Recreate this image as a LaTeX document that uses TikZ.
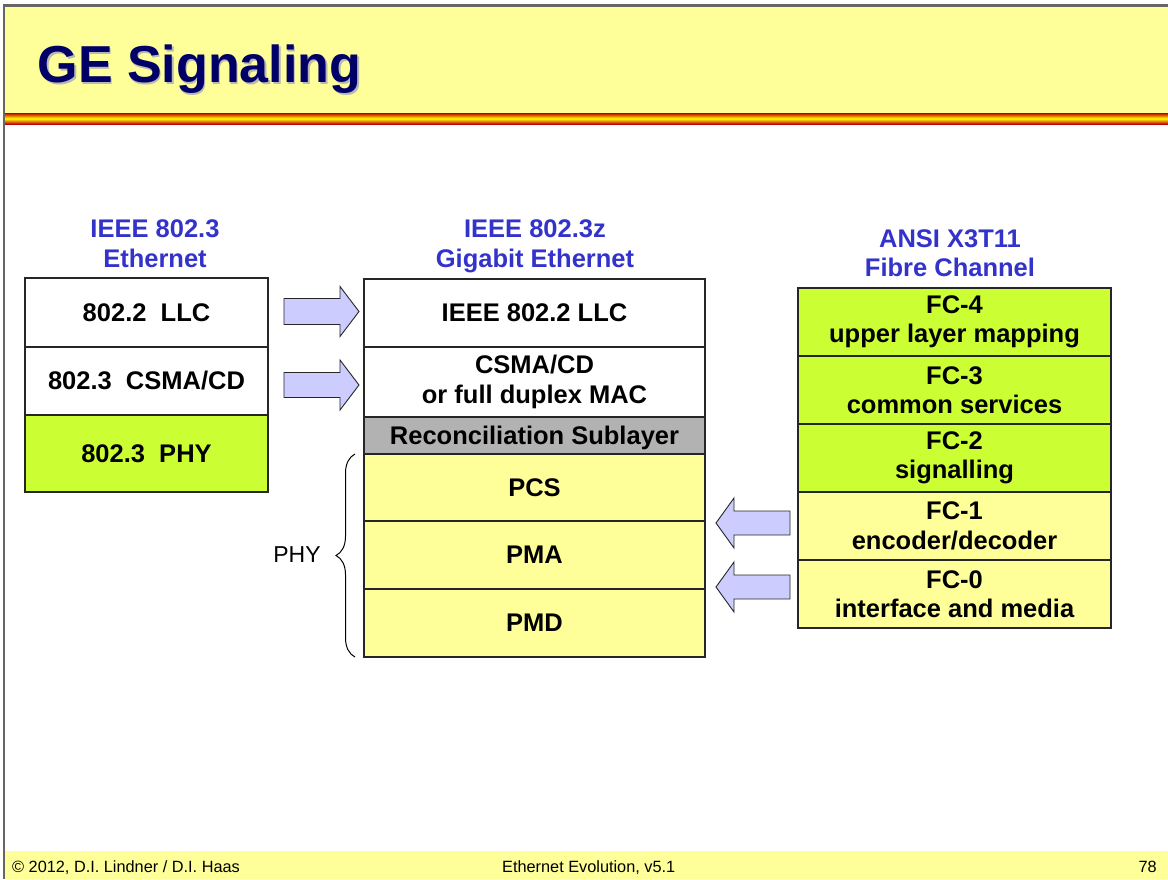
\documentclass[tikz,border=0pt]{standalone}
\usepackage{fontspec}
\setmainfont{Liberation Sans}
\usetikzlibrary{decorations.pathreplacing}
\definecolor{paleyellow}{HTML}{FFFF99}
\definecolor{limegreen}{HTML}{CCFF33}
\definecolor{rsgray}{HTML}{B2B2B2}
\definecolor{headblue}{HTML}{3333CC}
\definecolor{titlenavy}{HTML}{000066}
\definecolor{arrowfill}{HTML}{CCCCFF}
\definecolor{framegray}{HTML}{666666}
\begin{document}
\begin{tikzpicture}[x=1pt,y=-1pt,
  layer/.style={draw=black!85, line width=1.4pt, inner sep=0pt, outer sep=0pt,
    align=center, font=\bfseries\fontsize{25.5}{29.5}\selectfont},
  leftcol/.style={layer, minimum width=243pt},
  midcol/.style={layer, minimum width=341pt},
  rightcol/.style={layer, minimum width=313pt, minimum height=68pt},
  heading/.style={text=headblue, anchor=north, inner sep=0pt, align=center,
    font=\bfseries\fontsize{25.5}{29.5}\selectfont},
  blockarrow/.style={draw=black!85, line width=0.9pt, fill=arrowfill, line join=miter},
  foot/.style={inner sep=0pt, font=\fontsize{16.3}{19}\selectfont}]
\useasboundingbox (0,0) rectangle (1168,879);
% frame, title bar, footer
\fill[white] (0,0) rectangle (1168,879);
\fill[paleyellow] (5,6.5) rectangle (1168,113);
\shade[top color=red!75!black, bottom color=red!75!black, middle color=yellow] (5,113) rectangle (1168,124);
\fill[paleyellow] (5,851) rectangle (1168,879);
\fill[framegray] (3,4) rectangle (1168,6.5);
\fill[framegray] (3,4) rectangle (5.3,879);
% title
\node[anchor=base west, inner sep=0pt, text=black!28, font=\bfseries\fontsize{52}{60}\selectfont] (titleshadow) at (39,84) {GE Signaling};
\node[anchor=base west, inner sep=0pt, text=titlenavy, font=\bfseries\fontsize{52}{60}\selectfont] (title) at (37.5,82.5) {GE Signaling};
% headings
\node[heading] (h1) at (155,219.7) {IEEE 802.3\\Ethernet};
\node[heading] (h2) at (535,219.7) {IEEE 802.3z\\Gigabit Ethernet};
\node[heading] (h3) at (950,229) {ANSI X3T11\\Fibre Channel};
% left column
\node[leftcol, minimum height=69pt, fill=white] (llcA) at (146.5,312.5) {802.2\ \ LLC};
\node[leftcol, minimum height=68pt, fill=white] (macA) at (146.5,381) {802.3\ \ CSMA/CD};
\node[leftcol, minimum height=77pt, fill=limegreen] (phyA) at (146.5,453.5) {802.3\ \ PHY};
% middle column
\node[midcol, minimum height=68pt, fill=white] (llcB) at (534.5,313) {IEEE 802.2 LLC};
\node[midcol, minimum height=70pt, fill=white] (macB) at (534.5,382) {CSMA/CD\\or full duplex MAC};
\node[midcol, minimum height=37pt, fill=rsgray, text depth=0pt] (rs) at (534.5,435.5) {Reconciliation Sublayer};
\node[midcol, minimum height=67pt, fill=paleyellow] (pcs) at (534.5,487.5) {PCS};
\node[midcol, minimum height=68pt, fill=paleyellow] (pma) at (534.5,555) {PMA};
\node[midcol, minimum height=68pt, fill=paleyellow] (pmd) at (534.5,623) {PMD};
% right column
\node[rightcol, fill=limegreen] (fc4) at (954.5,322) {FC-4\\upper layer mapping};
\node[rightcol, fill=limegreen] (fc3) at (954.5,390) {FC-3\\common services};
\node[rightcol, fill=limegreen] (fc2) at (954.5,458) {FC-2\\signalling};
\node[rightcol, fill=paleyellow] (fc1) at (954.5,526) {FC-1\\encoder/decoder};
\node[rightcol, fill=paleyellow] (fc0) at (954.5,594) {FC-0\\interface and media};
% block arrows
\draw[blockarrow] (284,298.5) -- (340,298.5) -- (340,286.5) -- (359,311.5) -- (340,336.5) -- (340,324.5) -- (284,324.5) -- cycle;
\draw[blockarrow] (284,372.5) -- (340,372.5) -- (340,360) -- (359,385) -- (340,410) -- (340,397.5) -- (284,397.5) -- cycle;
\draw[blockarrow] (790,511) -- (734,511) -- (734,498) -- (716,523) -- (734,548) -- (734,535) -- (790,535) -- cycle;
\draw[blockarrow] (790,575) -- (734,575) -- (734,562) -- (716,587) -- (734,612) -- (734,599) -- (790,599) -- cycle;
% PHY brace
\coordinate (braceBot) at (355,657);
\coordinate (braceTop) at (355,454);
\draw[line width=1pt, decorate, decoration={brace, amplitude=19pt}] (braceBot) -- (braceTop);
\node[inner sep=0pt, font=\fontsize{23}{26}\selectfont] (phylabel) at (297,555) {PHY};
% footer
\node[foot, anchor=base west] (f1) at (12,872.7) {\textcopyright\ 2012, D.I. Lindner / D.I. Haas};
\node[foot, anchor=base west] (f2) at (502,872.7) {Ethernet Evolution, v5.1};
\node[foot, anchor=base east] (f3) at (1157,872.7) {78};
\end{tikzpicture}
\end{document}
